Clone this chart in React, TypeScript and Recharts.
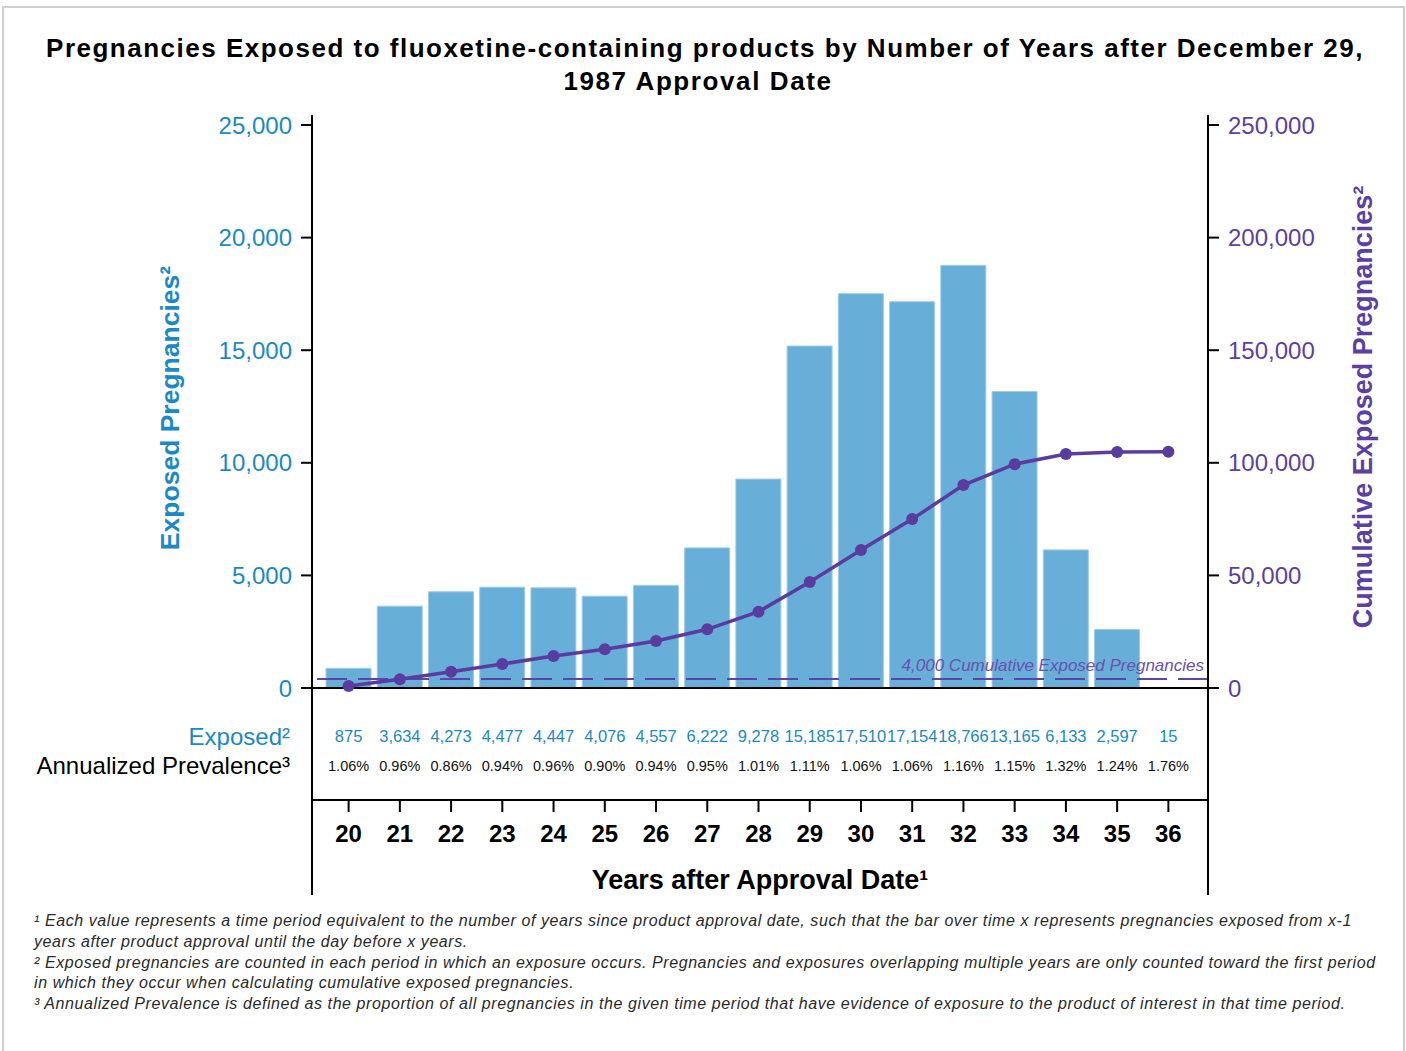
import React from 'react';
import { ComposedChart, Bar, Line, XAxis, YAxis, ReferenceLine } from 'recharts';

const years = [20, 21, 22, 23, 24, 25, 26, 27, 28, 29, 30, 31, 32, 33, 34, 35, 36];
const exposed = [875, 3634, 4273, 4477, 4447, 4076, 4557, 6222, 9278, 15185, 17510, 17154, 18766, 13165, 6133, 2597, 15];
const cumulative = [875, 3860, 7240, 10660, 14210, 17180, 20870, 26070, 33900, 47100, 61300, 75000, 90100, 99400, 103900, 104800, 104900];
const prevalence = ['1.06%', '0.96%', '0.86%', '0.94%', '0.96%', '0.90%', '0.94%', '0.95%', '1.01%', '1.11%', '1.06%', '1.06%', '1.16%', '1.15%', '1.32%', '1.24%', '1.76%'];
const leftTicks = [0, 5000, 10000, 15000, 20000, 25000];
const rightTicks = [0, 50000, 100000, 150000, 200000, 250000];
const thresholdValue = 4000;
const thresholdLabel = '4,000 Cumulative Exposed Pregnancies';

const title1 = 'Pregnancies Exposed to fluoxetine-containing products by Number of Years after December 29,';
const title2 = '1987 Approval Date';
const footnotes = [
  '\u00b9 Each value represents a time period equivalent to the number of years since product approval date, such that the bar over time x represents pregnancies exposed from x-1',
  'years after product approval until the day before x years.',
  '\u00b2 Exposed pregnancies are counted in each period in which an exposure occurs. Pregnancies and exposures overlapping multiple years are only counted toward the first period',
  'in which they occur when calculating cumulative exposed pregnancies.',
  '\u00b3 Annualized Prevalence is defined as the proportion of all pregnancies in the given time period that have evidence of exposure to the product of interest in that time period.',
];

const data = years.map((y, i) => ({ year: y, exposed: exposed[i], cumulative: cumulative[i] }));

const FONT = '"Liberation Sans", Arial, Helvetica, sans-serif';
const BLUE = '#1b88c7';
const PURPLE = '#5b3fa5';
const LINE_PURPLE = '#5a3b9f';
const BAR = '#67afd8';

// axis domains chosen so 0 sits on the baseline and the axis lines extend into the table area
const PX_PER_UNIT = 563 / 25000;
const leftDomain = [-(207 / PX_PER_UNIT), 573 / PX_PER_UNIT];
const rightDomain = [leftDomain[0] * 10, leftDomain[1] * 10];
const tableLineValue = -(112 / PX_PER_UNIT);

const fmt = (v: number) => v.toLocaleString('en-US');

const XTick = (props: any) => {
  const { x, y, payload } = props;
  const i = years.indexOf(payload.value);
  return (
    <g fontFamily={FONT}>
      <text x={x} y={y - 153} textAnchor="middle" fill={BLUE} fontSize={16.5}>
        {fmt(exposed[i])}
      </text>
      <text x={x} y={y - 124} textAnchor="middle" fill="#111" fontSize={14.5}>
        {prevalence[i]}
      </text>
      <line x1={x} x2={x} y1={y - 94} y2={y - 83} stroke="#000" strokeWidth={2} />
      <text x={x} y={y - 53} textAnchor="middle" fill="#000" fontSize={24} fontWeight="bold">
        {payload.value}
      </text>
    </g>
  );
};

const ThresholdLabel = (props: any) => {
  const { viewBox } = props;
  return (
    <text
      x={viewBox.x + viewBox.width - 4}
      y={viewBox.y - 8}
      textAnchor="end"
      fill="#6a50b0"
      fontSize={17}
      fontStyle="italic"
      fontFamily={FONT}
    >
      {thresholdLabel}
    </text>
  );
};

export default function App() {
  return (
    <div style={{ position: 'absolute', left: 0, top: 0, width: 1406, height: 1051, background: '#fff', fontFamily: FONT }}>
      <svg width={1406} height={1051} style={{ position: 'absolute', left: 0, top: 0 }}>
        <rect x={3} y={7} width={1401} height={1060} fill="none" stroke="#d0d0d0" strokeWidth={2} />
        <text x={705} y={57} textAnchor="middle" fontSize={26} letterSpacing={1.5} fontWeight="bold" fill="#000" fontFamily={FONT}>
          {title1}
        </text>
        <text x={698} y={90} textAnchor="middle" fontSize={26} letterSpacing={1.6} fontWeight="bold" fill="#000" fontFamily={FONT}>
          {title2}
        </text>
        <text transform="translate(170,408) rotate(-90)" textAnchor="middle" dominantBaseline="central" fontSize={26.5} fontWeight="bold" fill={BLUE} fontFamily={FONT}>
          {'Exposed Pregnancies\u00b2'}
        </text>
        <text transform="translate(1363,407) rotate(-90)" textAnchor="middle" dominantBaseline="central" fontSize={27} fontWeight="bold" fill={PURPLE} fontFamily={FONT}>
          {'Cumulative Exposed Pregnancies\u00b2'}
        </text>
        <text x={290} y={745} textAnchor="end" fontSize={24} fill={BLUE} fontFamily={FONT}>
          {'Exposed\u00b2'}
        </text>
        <text x={290} y={774} textAnchor="end" fontSize={24} fill="#000" fontFamily={FONT}>
          {'Annualized Prevalence\u00b3'}
        </text>
        <text x={760} y={889} textAnchor="middle" fontSize={27} fontWeight="bold" fill="#000" fontFamily={FONT}>
          {'Years after Approval Date\u00b9'}
        </text>
        {footnotes.map((f, i) => (
          <text key={i} x={34} y={926 + i * 20.8} fontSize={16} letterSpacing={0.58} fontStyle="italic" fill="#2a2a2a" fontFamily={FONT}>
            {f}
          </text>
        ))}
      </svg>
      <div style={{ position: 'absolute', left: 0, top: 0 }}>
        <ComposedChart
          width={1406}
          height={1051}
          data={data}
          margin={{ top: 115, right: 0, bottom: 155, left: 0 }}
          barSize={45}
        >
          <XAxis
            dataKey="year"
            type="category"
            xAxisId="x"
            padding={{ left: 11, right: 14 }}
            axisLine={false}
            tickLine={false}
            tickSize={0}
            tickMargin={0}
            interval={0}
            height={1}
            tick={<XTick />}
          />
          <YAxis
            yAxisId="left"
            orientation="left"
            width={312}
            type="number"
            domain={leftDomain}
            allowDataOverflow
            ticks={leftTicks}
            tickFormatter={fmt}
            axisLine={{ stroke: '#000', strokeWidth: 2 }}
            tickLine={{ stroke: '#000', strokeWidth: 2 }}
            tickSize={11}
            tickMargin={9}
            tick={{ fill: BLUE, fontSize: 24, fontFamily: FONT }}
          />
          <YAxis
            yAxisId="right"
            orientation="right"
            width={198}
            type="number"
            domain={rightDomain}
            allowDataOverflow
            ticks={rightTicks}
            tickFormatter={fmt}
            axisLine={{ stroke: '#000', strokeWidth: 2 }}
            tickLine={{ stroke: '#000', strokeWidth: 2 }}
            tickSize={11}
            tickMargin={9}
            tick={{ fill: PURPLE, fontSize: 24, fontFamily: FONT }}
          />
          <Bar
            xAxisId="x"
            yAxisId="left"
            dataKey="exposed"
            fill={BAR}
            stroke="#9fcbe8"
            strokeWidth={1}
            isAnimationActive={false}
          />
          <ReferenceLine xAxisId="x" yAxisId="left" y={0} stroke="#000" strokeWidth={2} ifOverflow="visible" />
          <ReferenceLine xAxisId="x" yAxisId="left" y={tableLineValue} stroke="#000" strokeWidth={2} ifOverflow="visible" />
          <ReferenceLine
            xAxisId="x"
            yAxisId="right"
            y={thresholdValue}
            stroke="#5e43a8"
            strokeWidth={2}
            strokeDasharray="30 11"
            ifOverflow="visible"
            label={<ThresholdLabel />}
          />
          <Line
            xAxisId="x"
            yAxisId="right"
            type="linear"
            dataKey="cumulative"
            stroke={LINE_PURPLE}
            strokeWidth={3.5}
            dot={{ r: 6, fill: LINE_PURPLE, stroke: 'none' }}
            activeDot={false}
            isAnimationActive={false}
          />
        </ComposedChart>
      </div>
    </div>
  );
}
